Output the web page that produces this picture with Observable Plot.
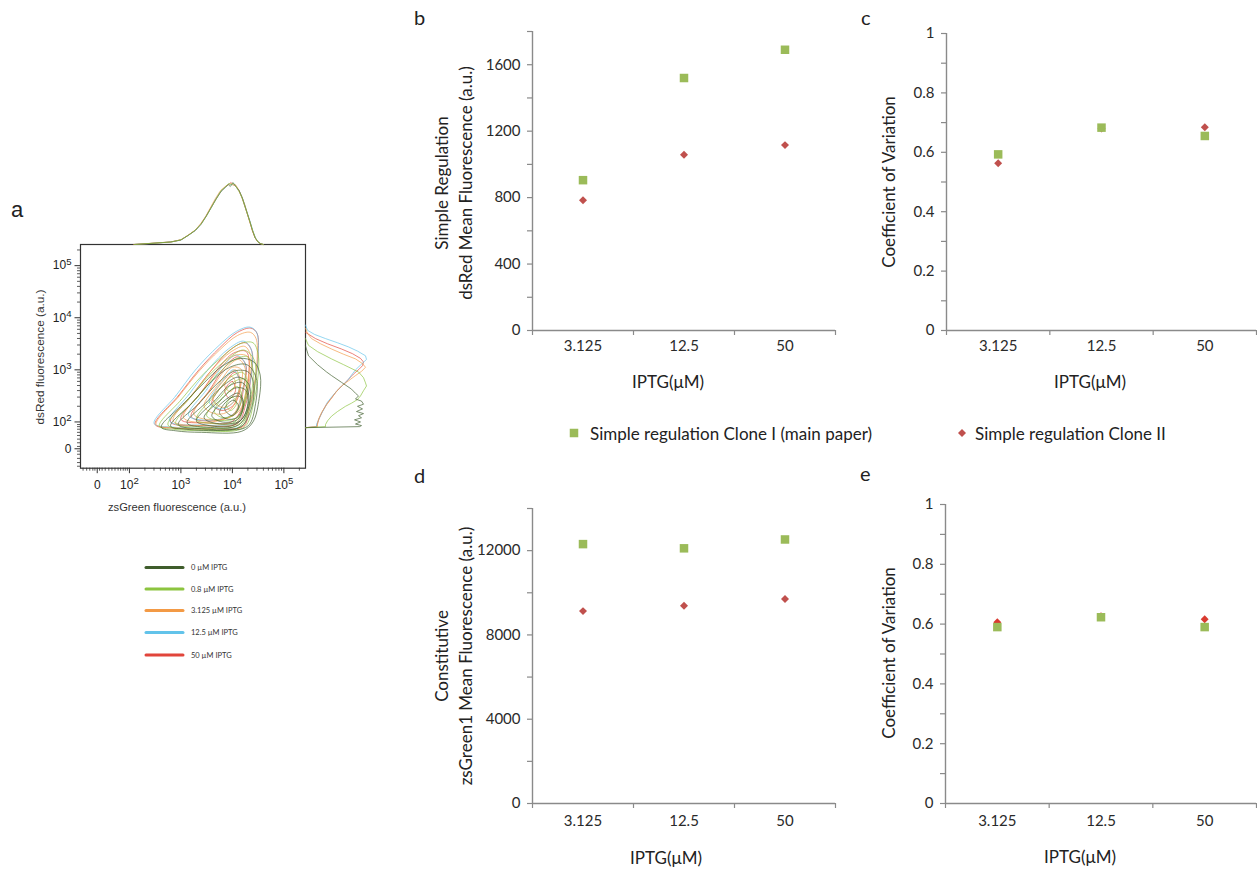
<!DOCTYPE html>
<html>
<head>
<meta charset="utf-8">
<script src="https://cdn.jsdelivr.net/npm/d3@7"></script>
<script src="https://cdn.jsdelivr.net/npm/@observablehq/plot@0.6"></script>
<style>
html,body{margin:0;padding:0;background:#fff;}
#fig{position:relative;width:1257px;height:871px;overflow:hidden;background:#fff;}
</style>
</head>
<body>
<div id="fig"></div>
<script>
// ---------------- DATA ----------------
const iptg = ["3.125", "12.5", "50"];
const seriesNames = ["Simple regulation Clone I (main paper)", "Simple regulation Clone II"];

// panel b: dsRed mean fluorescence (a.u.)
const bClone1 = [905, 1520, 1690];
const bClone2 = [784, 1058, 1116];
// panel c: coefficient of variation (dsRed)
const cClone1 = [0.593, 0.683, 0.655];
const cClone2 = [0.563, 0.680, 0.684];
// panel d: zsGreen1 mean fluorescence (a.u.)
const dClone1 = [12310, 12110, 12530];
const dClone2 = [9130, 9380, 9710];
// panel e: coefficient of variation (zsGreen1)
const eClone1 = [0.590, 0.623, 0.590];
const eClone2 = [0.606, 0.626, 0.616];

// panel a: conditions
const conditions = ["0 µM IPTG", "0.8 µM IPTG", "3.125 µM IPTG", "12.5 µM IPTG", "50 µM IPTG"];
const conditionColors = ["#3f5d2c", "#8cc43f", "#f39a45", "#62c3ea", "#e1453b"];

// contour outlines (display units: decades of the biexponential axes)
const contour0uM = [
  [[2.62,1.9],[3.05,2.35],[3.45,2.75],[3.8,3.07],[4.15,3.22],[4.42,3.15],[4.54,2.9],[4.52,2.45],[4.4,2.0],[4.18,1.82],[3.4,1.8],[2.9,1.83]],
  [[2.8,1.92],[3.2,2.35],[3.6,2.78],[3.95,3.05],[4.28,3.1],[4.46,2.85],[4.45,2.35],[4.3,1.92],[3.8,1.84],[3.1,1.86]],
  [[2.95,1.95],[3.35,2.35],[3.72,2.75],[4.05,2.98],[4.32,2.95],[4.42,2.65],[4.35,2.2],[4.15,1.9],[3.4,1.87]],
  [[3.12,1.98],[3.5,2.38],[3.85,2.72],[4.12,2.86],[4.32,2.72],[4.32,2.3],[4.12,1.94],[3.5,1.9]],
  [[3.3,2.02],[3.65,2.4],[3.95,2.7],[4.2,2.75],[4.32,2.5],[4.22,2.1],[4.0,1.93],[3.55,1.93]],
  [[3.45,2.08],[3.78,2.43],[4.05,2.65],[4.25,2.62],[4.3,2.35],[4.15,2.02],[3.7,1.97]],
  [[3.6,2.12],[3.9,2.45],[4.12,2.55],[4.22,2.35],[4.1,2.05],[3.8,2.0]],
  [[3.75,2.18],[3.98,2.47],[4.16,2.48],[4.2,2.28],[4.08,2.08],[3.88,2.06]],
  [[3.85,2.25],[4.02,2.42],[4.12,2.3],[4.0,2.12]]
];
const contour08uM = [
  [[2.58,1.92],[3.0,2.42],[3.4,2.88],[3.8,3.25],[4.15,3.5],[4.4,3.52],[4.5,3.3],[4.5,2.9],[4.42,2.4],[4.28,1.95],[4.1,1.84],[3.4,1.83],[2.85,1.86]],
  [[2.75,1.94],[3.15,2.43],[3.55,2.9],[3.92,3.22],[4.22,3.38],[4.42,3.2],[4.44,2.7],[4.3,2.15],[4.08,1.87],[3.4,1.86]],
  [[2.9,1.97],[3.3,2.45],[3.7,2.9],[4.05,3.2],[4.3,3.25],[4.4,3.0],[4.36,2.5],[4.22,2.05],[4.0,1.9],[3.35,1.9]],
  [[3.3,2.05],[3.65,2.5],[3.95,2.85],[4.2,2.95],[4.3,2.7],[4.22,2.3],[4.05,2.0],[3.6,1.97]],
  [[3.5,2.12],[3.8,2.52],[4.05,2.78],[4.25,2.82],[4.25,2.5],[4.12,2.1],[3.75,2.03]],
  [[3.65,2.2],[3.9,2.55],[4.1,2.68],[4.18,2.45],[4.05,2.15],[3.82,2.08]],
  [[3.88,2.32],[4.0,2.48],[4.08,2.36],[3.97,2.22]]
];
const contour3uM = [
  [[2.52,1.95],[2.95,2.48],[3.35,2.97],[3.75,3.38],[4.1,3.66],[4.35,3.72],[4.46,3.6],[4.48,3.2],[4.42,2.7],[4.3,2.2],[4.2,1.92],[3.55,1.87],[2.9,1.89]],
  [[2.85,2.02],[3.25,2.55],[3.62,3.02],[3.98,3.35],[4.24,3.45],[4.36,3.25],[4.33,2.78],[4.22,2.28],[4.06,1.97],[3.45,1.93]],
  [[3.05,2.08],[3.42,2.6],[3.78,3.05],[4.05,3.28],[4.3,3.25],[4.28,2.7],[4.12,2.2],[3.6,2.0]],
  [[3.25,2.15],[3.6,2.65],[3.9,3.05],[4.12,3.2],[4.25,3.02],[4.18,2.55],[4.02,2.15],[3.65,2.04]],
  [[3.45,2.3],[3.75,2.75],[4.0,3.05],[4.18,3.0],[4.12,2.55],[3.95,2.22],[3.7,2.15]],
  [[3.62,2.45],[3.88,2.85],[4.06,3.0],[4.15,2.78],[4.02,2.38],[3.8,2.28]],
  [[3.85,2.7],[3.98,2.88],[4.06,2.75],[3.96,2.58]]
];
const contour12uM = [
  [[2.48,1.97],[2.9,2.5],[3.3,3.02],[3.72,3.45],[4.08,3.74],[4.34,3.82],[4.47,3.72],[4.5,3.28],[4.43,2.72],[4.3,2.2],[4.2,1.93],[3.5,1.88],[2.85,1.9]],
  [[2.78,2.02],[3.15,2.52],[3.55,3.03],[3.92,3.4],[4.22,3.55],[4.37,3.38],[4.35,2.8],[4.22,2.28],[4.08,1.98],[3.45,1.94]],
  [[3.15,2.12],[3.5,2.62],[3.82,3.08],[4.08,3.28],[4.25,3.12],[4.2,2.62],[4.05,2.18],[3.65,2.04]],
  [[3.55,2.38],[3.82,2.8],[4.02,3.0],[4.14,2.8],[4.04,2.4],[3.78,2.25]]
];
const contour50uM = [
  [[2.5,1.95],[2.95,2.5],[3.35,3.0],[3.75,3.42],[4.1,3.72],[4.36,3.8],[4.48,3.7],[4.5,3.3],[4.44,2.75],[4.33,2.25],[4.22,1.92],[3.6,1.87],[2.9,1.88]],
  [[2.8,2.0],[3.2,2.5],[3.6,3.0],[3.95,3.38],[4.25,3.52],[4.38,3.35],[4.36,2.85],[4.25,2.3],[4.1,1.97],[3.5,1.93]],
  [[3.0,2.05],[3.38,2.55],[3.72,3.02],[4.02,3.32],[4.27,3.35],[4.32,2.9],[4.2,2.3],[3.98,2.0],[3.5,1.98]],
  [[3.2,2.1],[3.55,2.6],[3.85,3.05],[4.1,3.25],[4.26,3.1],[4.22,2.65],[4.08,2.2],[3.7,2.03]],
  [[3.6,2.35],[3.85,2.75],[4.05,2.95],[4.15,2.75],[4.05,2.35],[3.8,2.22]],
  [[3.85,2.6],[4.0,2.78],[4.06,2.6],[3.95,2.45]]
];

// top marginal histograms (zsGreen, [position, count])
const topHist0uM = [[2.09,0],[2.4,1],[2.8,2.5],[3.0,4.5],[3.14,9],[3.28,14],[3.39,20],[3.49,28],[3.59,37],[3.68,45],[3.78,53],[3.86,57],[3.92,60],[3.96,58],[4.01,62],[4.07,58],[4.13,54],[4.19,47],[4.24,39],[4.29,31],[4.34,23],[4.39,14],[4.44,7],[4.49,3],[4.54,1],[4.6,0]];
const topHist08uM = [[2.1,0],[2.42,1.2],[2.82,2.6],[3.0,4.8],[3.15,9.5],[3.28,14.5],[3.4,21],[3.5,29],[3.6,38],[3.69,46],[3.78,54],[3.87,58],[3.93,61],[3.98,60],[4.02,61],[4.08,57],[4.14,52],[4.2,45],[4.25,37],[4.3,29],[4.35,21],[4.4,13],[4.45,6],[4.5,2.5],[4.55,0.8],[4.6,0]];
const topHist3uM = [[2.08,0],[2.4,1.1],[2.8,2.4],[3.0,4.6],[3.14,9.2],[3.27,14],[3.38,20.5],[3.48,28],[3.58,37.5],[3.67,46],[3.77,54],[3.86,58],[3.92,60],[3.97,61],[4.02,59],[4.06,60],[4.12,55],[4.18,48],[4.24,40],[4.29,31],[4.34,22],[4.39,14],[4.44,7],[4.49,3],[4.54,1],[4.6,0]];
const topHist12uM = [[2.1,0],[2.41,1],[2.81,2.5],[3.0,4.4],[3.14,9],[3.28,14],[3.39,20.5],[3.49,28.5],[3.59,37],[3.68,46],[3.78,53.5],[3.87,57.5],[3.93,60.5],[3.98,59.5],[4.03,61],[4.08,57],[4.14,53],[4.2,46],[4.25,38],[4.3,30],[4.35,22],[4.4,13.5],[4.45,6.5],[4.5,2.8],[4.55,0.9],[4.6,0]];
const topHist50uM = [[2.09,0],[2.41,1.1],[2.8,2.6],[3.0,4.7],[3.14,9.3],[3.28,14.3],[3.39,20.8],[3.49,28.5],[3.59,37.5],[3.68,45.5],[3.78,53.5],[3.87,58],[3.93,60],[3.97,62],[4.02,60],[4.07,58],[4.13,53.5],[4.19,46.5],[4.24,38.5],[4.29,30.5],[4.34,22.5],[4.39,13.5],[4.44,6.8],[4.49,2.8],[4.54,0.9],[4.6,0]];

// right marginal histograms (dsRed, [position, count])
const rightHist0uM = [[3.46,0],[3.27,3],[3.1,12],[2.96,21],[2.89,26],[2.76,36],[2.63,46],[2.55,50],[2.5,53],[2.44,50],[2.4,56],[2.34,58],[2.3,52],[2.25,57],[2.2,51],[2.16,58],[2.12,53],[2.08,56],[2.04,49],[2.0,55],[1.96,50],[1.93,56],[1.91,54],[1.89,0]];
const rightHist08uM = [[3.6,0],[3.47,3],[3.35,12],[3.21,26],[3.1,38],[2.96,53],[2.85,58],[2.75,60],[2.69,61],[2.6,58],[2.5,55],[2.43,52],[2.36,46],[2.3,40],[2.2,32],[2.11,26],[2.02,22],[1.95,20],[1.91,20],[1.89,0]];
const rightHist3uM = [[3.8,0],[3.7,2],[3.6,6],[3.5,15],[3.4,26],[3.3,38],[3.21,50],[3.12,57],[3.05,60],[2.97,56],[2.89,50],[2.79,43],[2.69,36],[2.56,30],[2.43,25],[2.3,20],[2.18,16],[2.05,13],[1.95,12],[1.91,12],[1.89,0]];
const rightHist12uM = [[3.86,0],[3.76,2],[3.68,9],[3.6,20],[3.52,32],[3.44,43],[3.36,52],[3.27,60],[3.2,61],[3.11,56],[3.0,50],[2.9,46],[2.82,43],[2.72,38],[2.63,33],[2.5,27],[2.38,22],[2.3,20],[2.16,16],[2.04,13],[1.95,11],[1.91,11],[1.89,0]];
const rightHist50uM = [[3.72,0],[3.6,10],[3.5,22],[3.4,36],[3.31,47],[3.22,55],[3.15,58],[3.08,57],[3.02,54],[2.92,48],[2.82,43],[2.7,37],[2.59,31],[2.46,26],[2.34,21],[2.2,17],[2.08,14],[1.98,12],[1.91,11],[1.89,0]];

// axis tick positions for panel a (display units) and their labels
const aXTicks = [1.375, 2, 3, 4, 5];
const aXTickLabels = ["0", "10²", "10³", "10⁴", "10⁵"];
const aYTicks = [1.485, 2, 3, 4, 5];
const aYTickLabels = ["0", "10²", "10³", "10⁴", "10⁵"];
const aXLowTicks = [1.1,1.17,1.23,1.29,1.33,1.42,1.47,1.53,1.6,1.66,1.72,1.78,1.83,1.88,1.92,1.96];
const aYLowTicks = [1.15,1.22,1.3,1.38,1.44,1.53,1.6,1.67,1.74,1.8,1.86,1.91,1.95];

// ---------------- HELPERS ----------------
const fig = document.getElementById("fig");
function place(node, left, top) {
  node.style.position = "absolute";
  node.style.left = left + "px";
  node.style.top = top + "px";
  node.style.maxWidth = "none";
  fig.appendChild(node);
}
const axisGray = "#8a8a8a";
const greenMark = "#9BBB59";
const redMark = "#C0504D";
const squareSym = {draw(ctx, size) { const s = Math.sqrt(size) / 2; ctx.moveTo(-s,-s); ctx.lineTo(s,-s); ctx.lineTo(s,s); ctx.lineTo(-s,s); ctx.closePath(); }};
const diamondSym = {draw(ctx, size) { const h = Math.sqrt(size) / 2; ctx.moveTo(0,-h); ctx.lineTo(h,0); ctx.lineTo(0,h); ctx.lineTo(-h,0); ctx.closePath(); }};

function catPanel({left, top, width, height, mL, mR, mT, mB, yMax, yMinor, yMajor, c1, c2, fmt, red, xPad}) {
  const fw = width - mL - mR, fh = height - mT - mB;
  const rows1 = iptg.map((k, i) => ({pos: i + 0.5, v: c1[i]}));
  const rows2 = iptg.map((k, i) => ({pos: i + 0.5, v: c2[i]}));
  const allTicks = d3.range(0, Math.round(yMax / yMinor) + 1).map(i => +(i * yMinor).toFixed(6));
  const majorTicks = allTicks.filter(d => Math.abs(d / yMajor - Math.round(d / yMajor)) < 1e-6);
  const xUnit = 3 / fw, yUnit = yMax / fh;
  const p = Plot.plot({
    width, height, marginLeft: mL, marginRight: mR, marginTop: mT, marginBottom: mB,
    style: {background: "transparent", fontFamily: "Lato, 'Open Sans', sans-serif", fontSize: "15px", color: "#2a2a2a", overflow: "visible"},
    x: {domain: [0, 3], ticks: [0.5, 1.5, 2.5], tickFormat: d => iptg[Math.round(d - 0.5)], tickSize: 0, tickPadding: xPad, label: null},
    y: {domain: [0, yMax], ticks: majorTicks, tickFormat: fmt, tickSize: 0, tickPadding: 12, label: null},
    marks: [
      Plot.ruleY(allTicks, {x1: 0, x2: -5 * xUnit, stroke: axisGray, strokeWidth: 1.2}),
      Plot.ruleX([0, 1, 2, 3], {y1: 0, y2: -5 * yUnit, stroke: axisGray, strokeWidth: 1.2}),
      Plot.ruleX([0], {y1: 0, y2: yMax, stroke: axisGray, strokeWidth: 1.4}),
      Plot.ruleY([0], {x1: 0, x2: 3, stroke: axisGray, strokeWidth: 1.4}),
      Plot.dot(rows2, {x: "pos", y: "v", symbol: diamondSym, r: 4.5, fill: red, stroke: null}),
      Plot.dot(rows1, {x: "pos", y: "v", symbol: squareSym, r: 4.8, fill: greenMark, stroke: null})
    ]
  });
  place(p, left, top);
}

// ---------------- PANELS b–e ----------------
catPanel({left: 380, top: 0, width: 470, height: 400, mL: 152, mR: 15, mT: 31, mB: 70, yMax: 1800, yMinor: 200, yMajor: 400, c1: bClone1, c2: bClone2, fmt: d => String(d), red: redMark, xPad: 10});
catPanel({left: 860, top: 0, width: 397, height: 400, mL: 86, mR: 1, mT: 33, mB: 70, yMax: 1, yMinor: 0.1, yMajor: 0.2, c1: cClone1, c2: cClone2, fmt: d => String(+d.toFixed(1)), red: redMark, xPad: 10});
catPanel({left: 380, top: 460, width: 470, height: 400, mL: 152, mR: 15, mT: 48, mB: 57, yMax: 14000, yMinor: 2000, yMajor: 4000, c1: dClone1, c2: dClone2, fmt: d => String(d), red: redMark, xPad: 12});
catPanel({left: 860, top: 460, width: 397, height: 400, mL: 85, mR: 1, mT: 44, mB: 57, yMax: 1, yMinor: 0.1, yMajor: 0.2, c1: eClone1, c2: eClone2, fmt: d => String(+d.toFixed(1)), red: "#D93A30", xPad: 12});

// ---------------- PANEL a ----------------
const xDom = [1.05, 5.42], yDom = [1.112, 5.406];
const boxW = 225, boxH = 223.7;
const pxX = boxW / (xDom[1] - xDom[0]), pxY = boxH / (yDom[1] - yDom[0]);
const contourSets = [contour0uM, contour08uM, contour3uM, contour12uM, contour50uM];
const topHists = [topHist0uM, topHist08uM, topHist3uM, topHist12uM, topHist50uM];
const rightHists = [rightHist0uM, rightHist08uM, rightHist3uM, rightHist12uM, rightHist50uM];
const drawOrder = [4, 3, 2, 1, 0];
const topOrder = [4, 3, 2, 0, 1];

function contourRows(set, ci) {
  const rows = [];
  set.forEach((poly, li) => poly.forEach(([x, y]) => rows.push({x, y, key: ci + "-" + li})));
  return rows;
}
const logMinor = (lo, hi) => {
  const out = [];
  for (let d = 2; d <= 5; d++) for (let k = 2; k <= 9; k++) {
    const v = d + Math.log10(k);
    if (v > lo && v < hi) out.push(v);
  }
  return out;
};
const xMinor = aXLowTicks.concat(logMinor(xDom[0], xDom[1]));
const yMinor = aYLowTicks.concat(logMinor(yDom[0], yDom[1]));

const boxPlot = Plot.plot({
  width: 320, height: 280, marginLeft: 80, marginRight: 15, marginTop: 4, marginBottom: 52.3,
  style: {background: "transparent", fontFamily: "'Liberation Sans', Arial, sans-serif", fontSize: "12px", color: "#222", overflow: "visible"},
  x: {domain: xDom, ticks: aXTicks, tickFormat: d => aXTickLabels[aXTicks.indexOf(d)], tickSize: 0, tickPadding: 12, label: null},
  y: {domain: yDom, ticks: aYTicks, tickFormat: d => aYTickLabels[aYTicks.indexOf(d)], tickSize: 0, tickPadding: 9, label: null},
  marks: [
    ...drawOrder.map(ci => Plot.line(contourRows(contourSets[ci], ci), {x: "x", y: "y", z: "key", stroke: conditionColors[ci], strokeWidth: 0.8, strokeOpacity: 0.85, curve: "catmull-rom-closed"})),
    Plot.frame({stroke: "#333", strokeWidth: 1.2}),
    Plot.ruleX(xMinor, {y1: yDom[0], y2: yDom[0] - 3 / pxY, stroke: "#333", strokeWidth: 0.8}),
    Plot.ruleX(aXTicks, {y1: yDom[0], y2: yDom[0] - 5.5 / pxY, stroke: "#333", strokeWidth: 1}),
    Plot.ruleY(yMinor, {x1: xDom[0], x2: xDom[0] - 3 / pxX, stroke: "#333", strokeWidth: 0.8}),
    Plot.ruleY(aYTicks, {x1: xDom[0], x2: xDom[0] - 5.5 / pxX, stroke: "#333", strokeWidth: 1})
  ]
});
// render the exponent of the axis labels as a raised superscript
const SVGNS = "http://www.w3.org/2000/svg";
const supMap = {"²": "2", "³": "3", "⁴": "4", "⁵": "5"};
boxPlot.querySelectorAll("text").forEach(t => {
  const m = t.textContent.match(/^10([²³⁴⁵])$/);
  if (!m) return;
  t.textContent = "";
  const base = document.createElementNS(SVGNS, "tspan"); base.textContent = "10";
  const sup = document.createElementNS(SVGNS, "tspan"); sup.textContent = supMap[m[1]];
  sup.setAttribute("dy", "-0.5em"); sup.setAttribute("font-size", "0.8em");
  t.appendChild(base); t.appendChild(sup);
});
place(boxPlot, 0, 240);

const topPlot = Plot.plot({
  width: 320, height: 74, marginLeft: 80, marginRight: 15, marginTop: 10, marginBottom: 0,
  style: {background: "transparent", overflow: "visible"},
  x: {domain: xDom, axis: null}, y: {domain: [0, 64], axis: null},
  marks: topOrder.map(ci => Plot.line(topHists[ci], {x: d => d[0], y: d => d[1], stroke: conditionColors[ci], strokeWidth: 0.8, strokeOpacity: 0.75}))
});
place(topPlot, 0, 170);

const rightPlot = Plot.plot({
  width: 80, height: 280, marginLeft: 0, marginRight: 5, marginTop: 4, marginBottom: 52.3,
  style: {background: "transparent", overflow: "visible"},
  x: {domain: [0, 75], axis: null}, y: {domain: yDom, axis: null},
  marks: drawOrder.map(ci => Plot.line(rightHists[ci], {x: d => d[1], y: d => d[0], stroke: conditionColors[ci], strokeWidth: 0.8, strokeOpacity: 0.85}))
});
place(rightPlot, 305, 240);

// ---------------- TEXT OVERLAY ----------------
const svg = d3.create("svg").attr("width", 1257).attr("height", 871)
  .style("position", "absolute").style("left", "0px").style("top", "0px").style("pointer-events", "none");
const LATO = "Lato, 'Open Sans', sans-serif";
const ARIAL = "'Liberation Sans', Arial, sans-serif";
function txt(x, y, s, {size = 17, anchor = "middle", base = "central", rot = 0, family = LATO, fill = "#222"} = {}) {
  svg.append("text").attr("transform", `translate(${x},${y}) rotate(${rot})`)
    .attr("text-anchor", anchor).attr("dominant-baseline", base)
    .attr("font-family", family).attr("font-size", size).attr("fill", fill).text(s);
}
// panel letters
txt(11, 217, "a", {size: 22, anchor: "start", base: "alphabetic", family: ARIAL});
txt(414, 25, "b", {size: 20, anchor: "start", base: "alphabetic"});
txt(861, 25, "c", {size: 20, anchor: "start", base: "alphabetic"});
txt(414, 483, "d", {size: 20, anchor: "start", base: "alphabetic"});
txt(860, 481, "e", {size: 20, anchor: "start", base: "alphabetic"});
// axis titles b–e
txt(441.7, 183, "Simple Regulation", {rot: -90});
txt(465, 183, "dsRed Mean Fluorescence (a.u.)", {rot: -90});
txt(888, 182, "Coefficient of Variation", {rot: -90});
txt(441.7, 656, "Constitutive", {rot: -90});
txt(465, 656, "zsGreen1 Mean Fluorescence (a.u.)", {rot: -90});
txt(888, 653, "Coefficient of Variation", {rot: -90});
txt(668, 381, "IPTG(μM)");
txt(1090, 381, "IPTG(μM)");
txt(666, 857, "IPTG(μM)");
txt(1080, 856, "IPTG(μM)");
// middle legend
svg.append("rect").attr("x", 574 - 4.25).attr("y", 433 - 4.25).attr("width", 8.5).attr("height", 8.5).attr("fill", greenMark);
txt(590, 433, seriesNames[0], {anchor: "start"});
svg.append("path").attr("d", "M962,429 L966,433 L962,437 L958,433 Z").attr("fill", redMark);
txt(975, 433, seriesNames[1], {anchor: "start"});
// panel a axis titles
txt(40, 357, "dsRed fluorescence (a.u.)", {size: 11.8, rot: -90, family: ARIAL, fill: "#333"});
txt(177, 507, "zsGreen fluorescence (a.u.)", {size: 11.2, family: ARIAL, fill: "#333"});
// panel a legend
const legY = [567.5, 589, 610.5, 632.5, 655];
conditions.forEach((c, i) => {
  svg.append("line").attr("x1", 146).attr("x2", 183).attr("y1", legY[i]).attr("y2", legY[i])
    .attr("stroke", conditionColors[i]).attr("stroke-width", 3).attr("stroke-linecap", "round");
  txt(191, legY[i], c, {size: 7.5, anchor: "start", fill: "#333"});
});
fig.appendChild(svg.node());
</script>
</body>
</html>
